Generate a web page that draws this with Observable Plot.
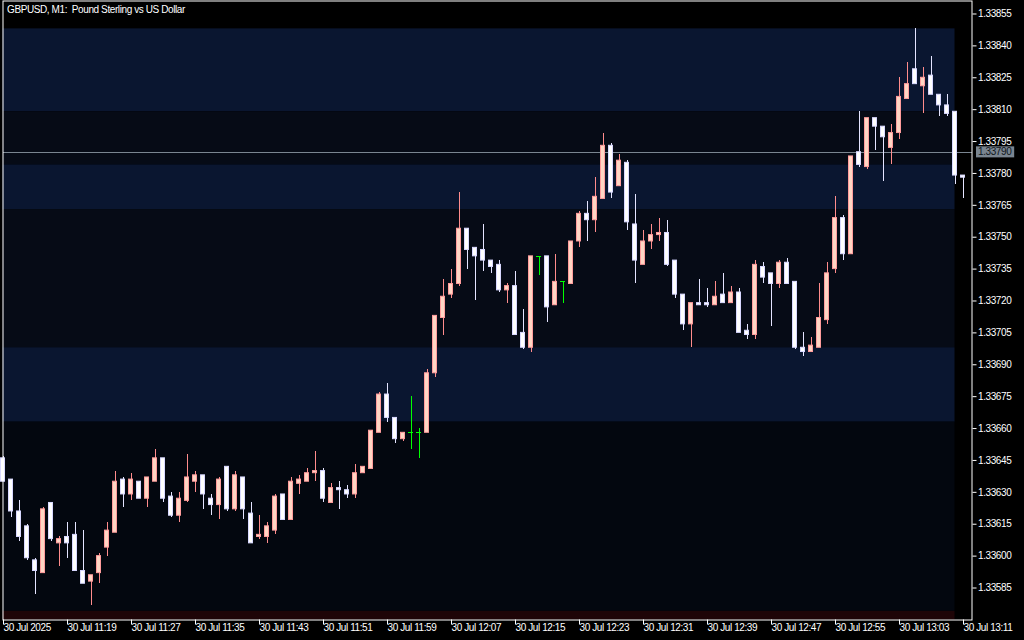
<!DOCTYPE html>
<html>
<head>
<meta charset="utf-8">
<script src="https://cdn.jsdelivr.net/npm/d3@7"></script>
<script src="https://cdn.jsdelivr.net/npm/@observablehq/plot@0.6"></script>
<style>
  html, body { margin: 0; padding: 0; background: #000; }
  svg line { shape-rendering: crispEdges; }
</style>
</head>
<body>
<div id="chart"></div>
<script>
// ---- Data (GBPUSD M1, 30 Jul 2025, 11:11 .. 13:11) ----
const title = "GBPUSD, M1:  Pound Sterling vs US Dollar";
const openP = [1.33646,1.33636,1.33621,1.33614,1.33598,1.33592,1.33625,1.33606,1.33609,1.33610,
1.33593,1.33588,1.33592,1.33604,1.33611,1.33636,1.33629,1.33635,1.33627,1.33635,
1.33646,1.33628,1.33619,1.33626,1.33635,1.33638,1.33627,1.33624,1.33642,1.33622,
1.33637,1.33620,1.33609,1.33609,1.33612,1.33629,1.33617,1.33634,1.33635,1.33639,
1.33640,1.33625,1.33632,1.33631,1.33629,1.33639,1.33641,1.33658,1.33676,1.33665,
1.33655,1.33658,1.33658,1.33658,1.33686,1.33712,1.33723,1.33728,1.33754,1.33745,
1.33744,1.33739,1.33737,1.33725,1.33727,1.33705,1.33698,1.33741,1.33741,1.33718,
1.33729,1.33728,1.33748,1.33761,1.33758,1.33768,1.33793,1.33774,1.33785,1.33756,
1.33737,1.33748,1.33751,1.33752,1.33739,1.33723,1.33709,1.33719,1.33719,1.33718,
1.33723,1.33719,1.33724,1.33706,1.33704,1.33736,1.33733,1.33728,1.33738,1.33729,
1.33698,1.33696,1.33698,1.33711,1.33735,1.33759,1.33742,1.33790,1.33783,1.33806,
1.33802,1.33792,1.33799,1.33815,1.33829,1.33821,1.33826,1.33817,1.33812,1.33809,
1.33779];
const highP = [1.33647,1.33636,1.33626,1.33615,1.33599,1.33623,1.33625,1.33609,1.33616,1.33616,
1.33612,1.33591,1.33601,1.33616,1.33640,1.33637,1.33639,1.33635,1.33637,1.33650,
1.33646,1.33630,1.33630,1.33648,1.33640,1.33638,1.33629,1.33637,1.33642,1.33640,
1.33637,1.33625,1.33619,1.33616,1.33629,1.33629,1.33637,1.33638,1.33641,1.33649,
1.33641,1.33634,1.33635,1.33633,1.33643,1.33642,1.33659,1.33677,1.33681,1.33665,
1.33658,1.33675,1.33660,1.33688,1.33713,1.33730,1.33735,1.33771,1.33754,1.33745,
1.33756,1.33739,1.33739,1.33728,1.33734,1.33716,1.33741,1.33741,1.33741,1.33742,
1.33729,1.33748,1.33762,1.33767,1.33778,1.33799,1.33794,1.33789,1.33786,1.33770,
1.33753,1.33756,1.33759,1.33758,1.33739,1.33723,1.33719,1.33730,1.33726,1.33729,
1.33733,1.33727,1.33726,1.33709,1.33739,1.33738,1.33733,1.33739,1.33740,1.33729,
1.33705,1.33703,1.33728,1.33738,1.33769,1.33760,1.33788,1.33809,1.33806,1.33806,
1.33802,1.33803,1.33825,1.33832,1.33848,1.33830,1.33835,1.33817,1.33817,1.33809,
1.33779];
const lowP = [1.33635,1.33618,1.33607,1.33598,1.33582,1.33592,1.33607,1.33595,1.33599,1.33593,
1.33587,1.33577,1.33587,1.33600,1.33611,1.33623,1.33626,1.33627,1.33623,1.33635,
1.33625,1.33618,1.33616,1.33625,1.33630,1.33622,1.33619,1.33617,1.33621,1.33621,
1.33617,1.33606,1.33608,1.33606,1.33610,1.33617,1.33617,1.33629,1.33635,1.33635,
1.33625,1.33625,1.33622,1.33627,1.33627,1.33639,1.33641,1.33658,1.33663,1.33653,
1.33654,1.33650,1.33646,1.33658,1.33684,1.33704,1.33721,1.33727,1.33735,1.33720,
1.33734,1.33733,1.33724,1.33719,1.33704,1.33697,1.33696,1.33732,1.33710,1.33718,
1.33719,1.33728,1.33745,1.33748,1.33752,1.33768,1.33768,1.33774,1.33753,1.33728,
1.33737,1.33744,1.33748,1.33736,1.33721,1.33706,1.33698,1.33718,1.33717,1.33718,
1.33719,1.33719,1.33705,1.33702,1.33702,1.33728,1.33708,1.33726,1.33728,1.33697,
1.33694,1.33696,1.33698,1.33709,1.33733,1.33739,1.33742,1.33783,1.33782,1.33791,
1.33776,1.33784,1.33796,1.33815,1.33822,1.33808,1.33817,1.33807,1.33807,1.33775,
1.33768];
const closeP = [1.33635,1.33621,1.33609,1.33599,1.33593,1.33622,1.33608,1.33608,1.33606,1.33593,
1.33587,1.33591,1.33600,1.33612,1.33635,1.33629,1.33636,1.33627,1.33637,1.33646,
1.33627,1.33619,1.33627,1.33637,1.33638,1.33629,1.33624,1.33636,1.33622,1.33638,
1.33622,1.33606,1.33610,1.33614,1.33628,1.33617,1.33635,1.33636,1.33639,1.33640,
1.33627,1.33632,1.33631,1.33629,1.33639,1.33642,1.33659,1.33676,1.33665,1.33655,
1.33658,1.33658,1.33658,1.33686,1.33713,1.33722,1.33728,1.33754,1.33744,1.33741,
1.33739,1.33736,1.33725,1.33727,1.33704,1.33698,1.33741,1.33741,1.33717,1.33729,
1.33729,1.33748,1.33761,1.33758,1.33769,1.33793,1.33771,1.33786,1.33757,1.33739,
1.33748,1.33751,1.33752,1.33737,1.33723,1.33709,1.33719,1.33718,1.33718,1.33722,
1.33719,1.33724,1.33705,1.33704,1.33737,1.33731,1.33728,1.33738,1.33728,1.33698,
1.33696,1.33699,1.33712,1.33733,1.33759,1.33742,1.33788,1.33784,1.33806,1.33802,
1.33797,1.33799,1.33816,1.33822,1.33822,1.33825,1.33817,1.33812,1.33808,1.33779,
1.33778];

// time-axis labels, one every 8 bars
const timeLabels = ["30 Jul 2025","30 Jul 11:19","30 Jul 11:27","30 Jul 11:35","30 Jul 11:43",
  "30 Jul 11:51","30 Jul 11:59","30 Jul 12:07","30 Jul 12:15","30 Jul 12:23","30 Jul 12:31",
  "30 Jul 12:39","30 Jul 12:47","30 Jul 12:55","30 Jul 13:03","30 Jul 13:11"];
const labelStep = 8;

// price-axis tick labels
const priceTicks = [1.33585,1.33600,1.33615,1.33630,1.33645,1.33660,1.33675,1.33690,1.33705,
  1.33720,1.33735,1.33750,1.33765,1.33780,1.33795,1.33810,1.33825,1.33840,1.33855];

// horizontal zones (top price, bottom price, kind)
const zoneTop    = [1.33848, 1.33809, 1.33784, 1.33763, 1.33698, 1.33663, 1.33574];
const zoneBottom = [1.33809, 1.33784, 1.33763, 1.33698, 1.33663, 1.33574, 1.33569];
const zoneKind   = ["zoneA","zoneB","zoneA","zoneB","zoneA","zoneC","zoneD"];
const zoneEndBar = 119;

const priceLine = 1.33790;

// ---- Build ----
const candles = openP.map((o, i) => ({
  k: i, o, h: highP[i], l: lowP[i], c: closeP[i],
  t: closeP[i] > o ? "up" : closeP[i] < o ? "down" : "doji"
}));
const zones = zoneTop.map((t, i) => ({top: t, bottom: zoneBottom[i], kind: zoneKind[i]}));
const tickBars = timeLabels.map((_, i) => i * labelStep);

const zoneColor = {zoneA: "#0a1630", zoneB: "#060b16", zoneC: "#03070f", zoneD: "#1e0507"};
const wickColor = {up: "#ff8c8c", down: "#e4e4ff", doji: "#00ff00"};
const bodyFill = {up: "#ffd6c4", down: "#ffffff"};
const bodyStroke = {up: "#ff9c9c", down: "#d8d8ff"};
const half = 0.3125;
const dojis = candles.filter(d => d.t === "doji");
const bodies = candles.filter(d => d.t !== "doji");

const chart = Plot.plot({
  width: 1024,
  height: 640,
  marginLeft: 2.5,
  marginRight: 52.5,
  marginTop: 0.5,
  marginBottom: 20.5,
  style: {background: "#000", color: "#fff", fontFamily: "'Liberation Sans', Arial, sans-serif", fontSize: "10px", letterSpacing: "-0.4px"},
  x: {domain: [0, 121.125], axis: null},
  y: {domain: [1.3356995, 1.3386111], axis: null},
  marks: [
    Plot.rect(zones, {x1: () => -3, x2: () => zoneEndBar, y1: "bottom", y2: "top",
      fill: d => zoneColor[d.kind], clip: true}),
    Plot.ruleY([priceLine], {stroke: "#7a8590", strokeWidth: 1}),
    Plot.ruleX(bodies, {x: "k", y1: "l", y2: "h", stroke: d => wickColor[d.t], strokeWidth: 1}),
    Plot.ruleX(dojis, {x: "k", y1: "l", y2: "h", stroke: wickColor.doji, strokeWidth: 1}),
    Plot.rect(bodies, {
      x1: d => d.k - half, x2: d => d.k + half, y1: "o", y2: "c",
      fill: d => bodyFill[d.t], stroke: d => bodyStroke[d.t], strokeWidth: 1,
      insetLeft: 0.5, insetRight: 0.5
    }),
    Plot.ruleY(dojis, {
      x1: d => d.k - half, x2: d => d.k + half, y: "o", stroke: wickColor.doji, strokeWidth: 1
    }),
    Plot.frame({stroke: "#fff", strokeWidth: 1}),
    Plot.axisY(priceTicks, {anchor: "right", tickSize: 4, tickPadding: 2, label: null,
      tickFormat: d => d.toFixed(5), fill: "#fff", stroke: "#fff"}),
    Plot.axisX(tickBars, {anchor: "bottom", tickSize: 5, tickPadding: -1, label: null,
      tickFormat: (d, i) => timeLabels[i], textAnchor: "start", dx: 0.5, fill: "#fff", stroke: "#fff"}),
    Plot.text([title], {frameAnchor: "top-left", dx: 4, dy: 4.5, lineAnchor: "top",
      textAnchor: "start", fill: "#fff"}),
    Plot.text([priceLine], {y: d => d, frameAnchor: "right", dx: 6, textAnchor: "start",
      text: d => d.toFixed(5), fill: "#10161c"})
  ]
});

document.getElementById("chart").appendChild(chart);

// grey box behind the current-price label
const label = priceLine.toFixed(5);
d3.select(chart).selectAll("text").filter(function () {
  const f = this.getAttribute("fill") || (this.parentNode && this.parentNode.getAttribute("fill"));
  return this.textContent === label && f === "#10161c";
}).each(function () {
  const b = this.getBBox();
  const r = document.createElementNS("http://www.w3.org/2000/svg", "rect");
  r.setAttribute("x", b.x - 2);
  r.setAttribute("y", b.y);
  r.setAttribute("width", b.width + 4);
  r.setAttribute("height", b.height);
  r.setAttribute("fill", "#7a8590");
  const tr = this.getAttribute("transform");
  if (tr) r.setAttribute("transform", tr);
  this.parentNode.insertBefore(r, this);
});
</script>
</body>
</html>
